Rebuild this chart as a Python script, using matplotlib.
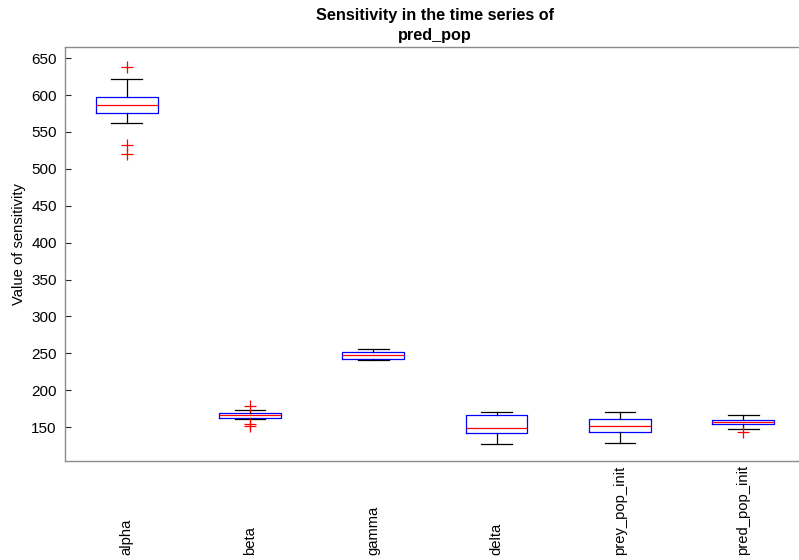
import matplotlib
matplotlib.use("Agg")
import matplotlib.pyplot as plt
import matplotlib.transforms as mtransforms

plt.rcParams["font.family"] = ["Liberation Sans", "DejaVu Sans"]

# ── DATA ──────────────────────────────────────────────────────────
labels = ["alpha", "beta", "gamma", "delta", "prey_pop_init", "pred_pop_init"]
q1     = [576.1, 162.6, 242.8, 141.3, 143.6, 154.1]
med    = [586.5, 166.3, 247.8, 148.6, 151.4, 156.8]
q3     = [597.4, 169.0, 251.4, 165.8, 160.3, 159.5]
whislo = [562.1, 160.9, 240.5, 127.0, 128.3, 146.7]
whishi = [622.3, 172.6, 255.4, 169.8, 169.8, 166.3]
fliers = [[638.2, 532.2, 520.4], [179.0, 154.5, 151.8], [], [], [], [143.6]]
# ─────────────────────────────────────────────────────────────────

stats = [
    dict(label=lab, q1=a, med=m, q3=b, whislo=lo, whishi=hi, fliers=f)
    for lab, a, m, b, lo, hi, f in zip(labels, q1, med, q3, whislo, whishi, fliers)
]

fig = plt.figure(figsize=(7.99, 5.6), dpi=100)
ax = fig.add_axes([0.0814, 0.1768, 0.926, 0.739])

ax.bxp(
    stats,
    positions=range(1, len(labels) + 1),
    widths=0.5,
    boxprops=dict(color="blue", linewidth=0.9),
    medianprops=dict(color="red", linewidth=0.9),
    whiskerprops=dict(color="black", linewidth=0.9),
    capprops=dict(color="black", linewidth=0.9),
    flierprops=dict(marker="+", markeredgecolor="red", markersize=8,
                    markeredgewidth=0.9, linestyle="none"),
)

ax.set_xlim(0.5, 6.5)
ax.set_ylim(104, 665)
ax.set_yticks(range(150, 651, 50))
ax.set_xticks([])
ax.tick_params(axis="y", direction="in", length=4, labelsize=11,
               color="#262626", pad=6)

for side in ["left", "bottom", "top"]:
    ax.spines[side].set_color("#8c8c8c")
    ax.spines[side].set_linewidth(1.0)
ax.spines["right"].set_visible(False)

# rotated category labels, bottom-aligned like MATLAB's output
trans = mtransforms.blended_transform_factory(ax.transData, fig.transFigure)
for i, lab in enumerate(labels, start=1):
    ax.text(i, 0.009, lab, rotation=90, ha="center", va="bottom",
            fontsize=10.6, transform=trans)

ax.set_ylabel("Value of sensitivity", fontsize=10.6)
ax.yaxis.set_label_coords(-0.053, 0.525)
ax.set_title("Sensitivity in the time series of\npred_pop",
             fontsize=11.7, fontweight="bold", pad=5, linespacing=1.4)

fig.savefig("out.png", dpi=100)
